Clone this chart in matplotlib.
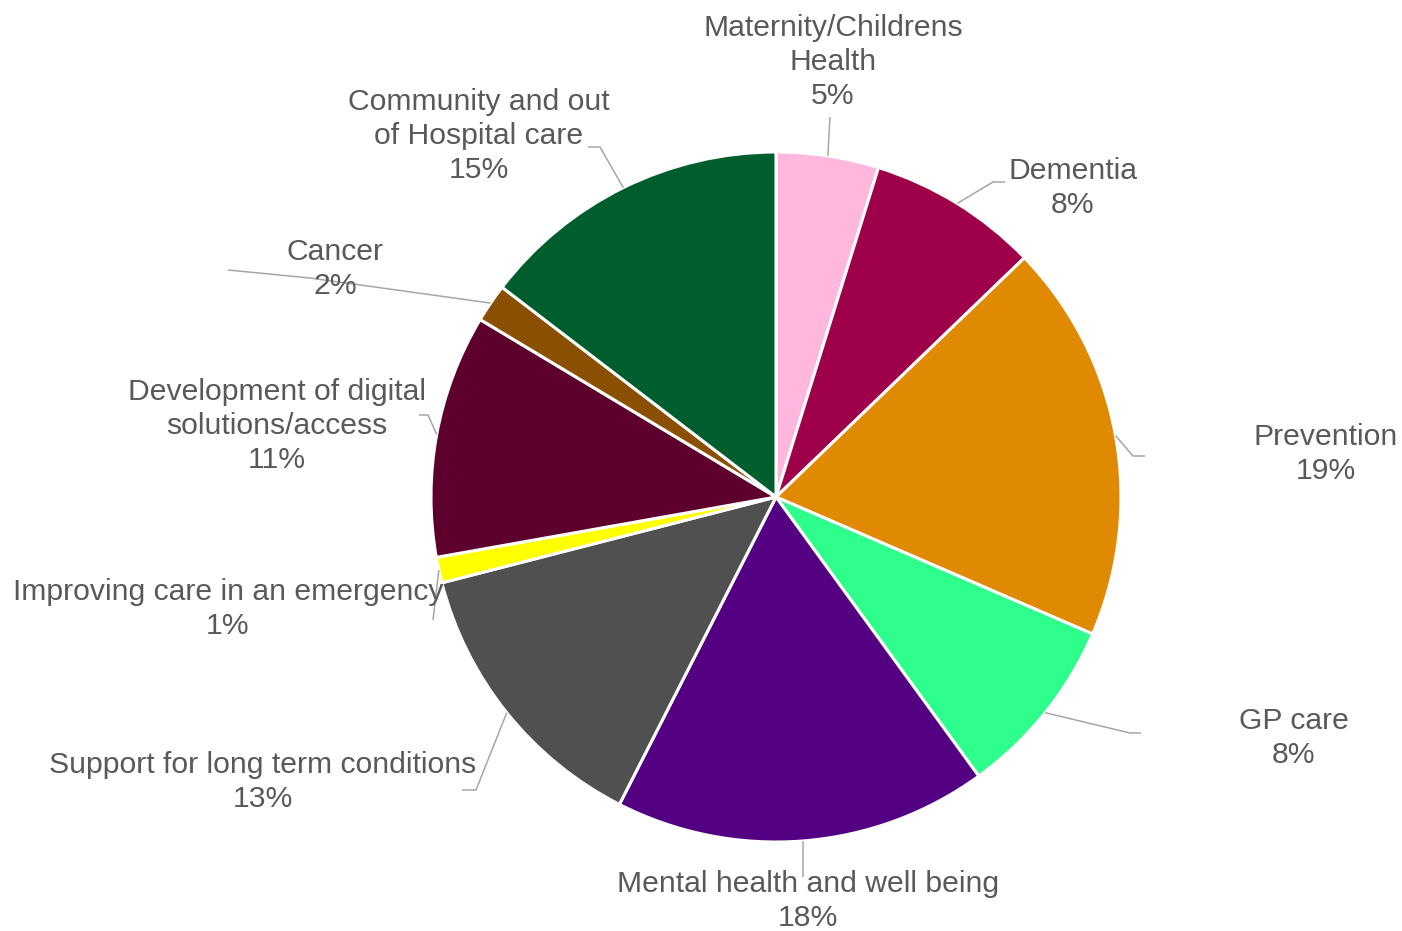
import matplotlib
matplotlib.use("Agg")
import matplotlib.pyplot as plt
import numpy as np

categories = [
    "Maternity/Childrens\nHealth",
    "Dementia",
    "Prevention",
    "GP care",
    "Mental health and well being",
    "Support for long term conditions",
    "Improving care in an emergency",
    "Development of digital\nsolutions/access",
    "Cancer",
    "Community and out\nof Hospital care",
]
values = [4.8, 8.0, 18.7, 8.5, 17.5, 13.5, 1.2, 11.4, 1.8, 14.6]
pct_labels = ["5%", "8%", "19%", "8%", "18%", "13%", "1%", "11%", "2%", "15%"]
colors = ["#FFB7DE", "#9E004A", "#E08A04", "#2EFF8C", "#540082",
          "#505050", "#FFFF00", "#5E002D", "#8A4F00", "#005E2E"]

W, H = 1402, 931
fig = plt.figure(figsize=(W / 100, H / 100), dpi=100)
ax = fig.add_axes([0, 0, 1, 1])

cx, cy, R = 776, H - 497, 345
wedges, _ = ax.pie(values, colors=colors, startangle=90, counterclock=False,
                   center=(cx, cy), radius=R, frame=True,
                   wedgeprops=dict(edgecolor="white", linewidth=2.2))
ax.set_xlim(0, W)
ax.set_ylim(0, H)
ax.set_aspect("equal")
ax.axis("off")

# layout: label centres (image px, y down) and leader path points after the wedge anchor
label_pos = [(833, 62), (1073, 188), (1326, 454), (1294, 738), (808, 901),
             (263, 782), (228, 609), (277, 426), (335, 269), (479, 136)]
leader_pts = [
    [(830, 117)],
    [(993, 182), (1005, 182)],
    [(1133, 456), (1145, 456)],
    [(1130, 733), (1141, 733)],
    [(803, 877)],
    [(476, 790), (462, 790)],
    [(433, 620)],
    [(428, 415), (419, 415)],
    [(310, 278), (228, 270)],
    [(600, 147), (588, 147)],
]

text_color = "#595959"
line_color = "#A6A6A6"

for w, cat, pct, lp, pts in zip(wedges, categories, pct_labels, label_pos, leader_pts):
    mid = np.deg2rad((w.theta1 + w.theta2) / 2)
    ax_, ay_ = cx + R * np.cos(mid), cy + R * np.sin(mid)
    xs = [ax_] + [p[0] for p in pts]
    ys = [ay_] + [H - p[1] for p in pts]
    ax.plot(xs, ys, color=line_color, lw=1.1, zorder=3, solid_capstyle="butt")
    ax.text(lp[0], H - lp[1], cat + "\n" + pct, ha="center", va="center",
            fontsize=21.7, color=text_color, family=["Liberation Sans", "DejaVu Sans"],
            linespacing=1.27, zorder=4)

fig.savefig("out.png", dpi=100)
